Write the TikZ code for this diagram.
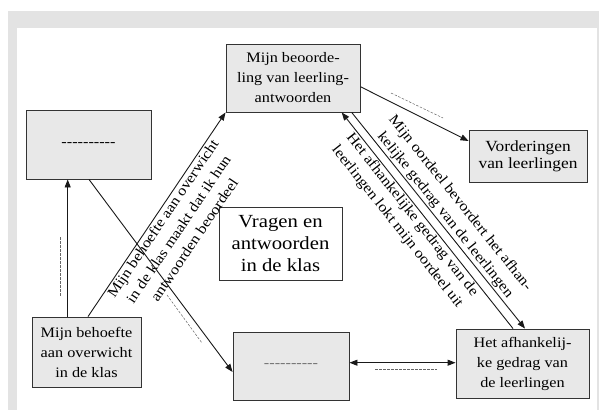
\documentclass[tikz,border=0pt]{standalone}
\usepackage{fontspec}
\setmainfont{Liberation Serif}[FakeStretch=1.12]
\usetikzlibrary{arrows.meta}
\definecolor{bggray}{HTML}{E3E3E3}
\definecolor{boxgray}{HTML}{E8E8E8}
\definecolor{edge}{HTML}{333333}
\newcommand\dsh{\mbox{-}}
\newcommand\dashrow{\dsh\dsh\dsh\dsh\dsh\dsh\dsh\dsh\dsh\dsh}
\begin{document}
\begin{tikzpicture}[x=1pt,y=-1pt,
  box/.style={draw=edge, line width=0.9pt, fill=boxgray, align=center, inner sep=0pt, font=\fontsize{14.5}{20}\selectfont},
  conn/.style={draw=black!90, line width=0.9pt},
  arr/.style={conn, -{Triangle[length=8pt,width=6pt]}},
  rarr/.style={conn, {Triangle[length=8pt,width=6pt]}-},
  darr/.style={conn, {Triangle[length=8pt,width=6pt]}-{Triangle[length=8pt,width=6pt]}},
  hint/.style={draw=black!60, line width=0.5pt, dash pattern=on 2.5pt off 1.5pt},
  lbl/.style={font=\fontsize{14.5}{19}\selectfont, align=center, inner sep=1.5pt, sloped}
]
\useasboundingbox (0,0) rectangle (599,410);
\fill[bggray] (8,11) rectangle (599,410);
\fill[white] (17,28) rectangle (597,410);

\node[box, minimum width=134pt, minimum height=68pt] (top) at (293,78) {Mijn beoorde-\\ling van leerling-\\antwoorden};
\node[box, minimum width=125pt, minimum height=69pt] (lbox) at (88.5,144.5) {\dashrow};
\node[box, minimum width=109pt, minimum height=70pt] (bl) at (86.5,352) {Mijn behoefte\\aan overwicht\\in de klas};
\node[box, minimum width=116pt, minimum height=68pt, text=black!55] (bm) at (291,366) {\dashrow};
\node[box, minimum width=133pt, minimum height=69pt] (br) at (522.5,363.5) {Het afhankelij-\\ke gedrag van\\de leerlingen};
\node[box, minimum width=118pt, minimum height=52pt, font=\fontsize{15.5}{17}\selectfont] (vord) at (528,156) {Vorderingen\\van leerlingen};
\node[box, fill=white, minimum width=123pt, minimum height=73pt, font=\fontsize{18.5}{22}\selectfont] (ctr) at (280.5,243.5) {Vragen en\\antwoorden\\in de klas};

\draw[arr] ([xshift=-18.8pt]bl.north) -- ([xshift=-20.8pt]lbox.south);
\draw[arr] ([xshift=1.5pt]bl.north) -- (top.south west)
  node[lbl, midway, below] {Mijn behoefte aan overwicht\\in de klas maakt dat ik hun\\antwoorden beoordeel};
\draw[arr] ([xshift=0.5pt]lbox.south) -- ([yshift=-6pt]bm.west);
\draw[arr] ([yshift=-8.7pt]top.east) -- ([yshift=15pt]vord.west);
\draw[arr] ([xshift=58.7pt]top.south) -- ([xshift=2.5pt]br.north)
  node[lbl, pos=0.5, above] {Mijn oordeel bevordert het afhan-\\kelijke gedrag van de leerlingen};
\draw[rarr] ([xshift=48.7pt]top.south) -- ([xshift=-9.5pt]br.north)
  node[lbl, pos=0.45, below] {Het afhankelijke gedrag van de\\leerlingen lokt mijn oordeel uit};
\draw[darr] ([yshift=3.3pt]bm.east) -- ([yshift=0.8pt]br.west);

\coordinate (h1a) at (60,237); \coordinate (h1b) at (60,296);
\coordinate (h2a) at (167,295); \coordinate (h2b) at (202,343);
\coordinate (h3a) at (391,93); \coordinate (h3b) at (443,118);
\coordinate (h4a) at (375,369); \coordinate (h4b) at (437,369);
\draw[hint] (h1a) -- (h1b);
\draw[hint] (h2a) -- (h2b);
\draw[hint] (h3a) -- (h3b);
\draw[hint] (h4a) -- (h4b);
\end{tikzpicture}
\end{document}
